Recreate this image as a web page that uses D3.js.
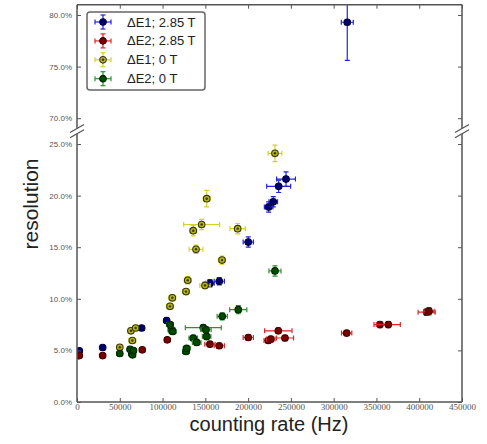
<!DOCTYPE html>
<html>
<head>
<meta charset="utf-8">
<script src="https://cdn.jsdelivr.net/npm/d3@7"></script>
<style>
body { margin: 0; background: #fff; }
</style>
</head>
<body>
<div id="chart"></div>
<script>
// counting rate (Hz), resolution (%) and their error bars for every series
var e1HighRate = [2700, 30000, 75600, 104800, 155400, 166300, 200200, 224000, 229400, 235700, 244300, 315900];
var e1HighRes = [4.96, 5.28, 7.17, 7.9, 11.5, 11.7, 15.5, 18.9, 19.4, 20.9, 21.6, 79.3];
var e1HighRateErr = [1500, 2000, 2500, 3000, 5000, 6000, 6000, 5000, 5000, 14000, 11000, 7000];
var e1HighResErr = [0.15, 0.15, 0.2, 0.25, 0.35, 0.35, 0.5, 0.5, 0.5, 0.6, 0.7, 3.7];

var e2HighRate = [2700, 30000, 76300, 105500, 155400, 166300, 200200, 223600, 226500, 235300, 243100, 315200, 354100, 363900, 408700, 411400];
var e2HighRes = [4.5, 4.5, 5.06, 6.03, 5.6, 5.45, 6.25, 5.96, 6.1, 6.9, 6.2, 6.68, 7.5, 7.5, 8.7, 8.8];
var e2HighRateErr = [1500, 2000, 2500, 3000, 6000, 6000, 6000, 5000, 5000, 16000, 10000, 6000, 7000, 14000, 10000, 6000];
var e2HighResErr = [0.15, 0.15, 0.15, 0.2, 0.2, 0.2, 0.25, 0.25, 0.25, 0.25, 0.25, 0.25, 0.3, 0.3, 0.3, 0.35];

var e1ZeroRate = [50000, 63000, 64700, 68600, 108700, 111400, 127400, 129400, 149600, 139100, 169500, 135900, 145700, 187800, 151600, 231400];
var e1ZeroRes = [5.3, 6.9, 5.96, 7.17, 9.27, 10.1, 10.7, 11.8, 11.3, 14.8, 13.75, 16.6, 17.2, 16.8, 19.7, 24.1];
var e1ZeroRateErr = [3000, 3000, 4000, 3000, 4000, 4000, 4000, 4000, 6000, 8000, 4000, 4000, 21000, 9000, 4000, 8000];
var e1ZeroResErr = [0.2, 0.25, 0.25, 0.25, 0.3, 0.3, 0.3, 0.35, 0.35, 0.4, 0.4, 0.5, 0.5, 0.5, 0.8, 0.8];

var e2ZeroRate = [50000, 62000, 64000, 65000, 66000, 108700, 110500, 111800, 127400, 128200, 135900, 139900, 147600, 150800, 151500, 169800, 188500, 231400];
var e2ZeroRes = [4.7, 5.1, 4.67, 4.57, 4.99, 7.5, 7.0, 6.84, 4.9, 5.2, 6.2, 5.77, 7.2, 7.0, 6.35, 8.3, 8.95, 12.7];
var e2ZeroRateErr = [3000, 3000, 3000, 3000, 3000, 4000, 4000, 4000, 4000, 4000, 5000, 5000, 21000, 6000, 5000, 6000, 10000, 7000];
var e2ZeroResErr = [0.2, 0.2, 0.2, 0.2, 0.2, 0.3, 0.3, 0.3, 0.25, 0.25, 0.25, 0.25, 0.3, 0.3, 0.3, 0.35, 0.4, 0.5];

var seriesNames = ["\u0394E1; 2.85 T", "\u0394E2; 2.85 T", "\u0394E1; 0 T", "\u0394E2; 0 T"];

// tick values
var rateTicks = [0, 50000, 100000, 150000, 200000, 250000, 300000, 350000, 400000, 450000];
var topResTicks = [70, 75, 80];
var bottomResTicks = [0, 5, 10, 15, 20, 25];

var series = [
    {name: seriesNames[0], rate: e1HighRate, res: e1HighRes, rateErr: e1HighRateErr, resErr: e1HighResErr,
     bar: "#2424d8", fill: "#00006e", edge: "#000040", dot: false},
    {name: seriesNames[1], rate: e2HighRate, res: e2HighRes, rateErr: e2HighRateErr, resErr: e2HighResErr,
     bar: "#e02626", fill: "#7a0000", edge: "#400000", dot: false},
    {name: seriesNames[2], rate: e1ZeroRate, res: e1ZeroRes, rateErr: e1ZeroRateErr, resErr: e1ZeroResErr,
     bar: "#d2d22a", fill: "#b4b424", edge: "#383800", dot: true},
    {name: seriesNames[3], rate: e2ZeroRate, res: e2ZeroRes, rateErr: e2ZeroRateErr, resErr: e2ZeroResErr,
     bar: "#2f8f2f", fill: "#004a00", edge: "#002200", dot: false}
];

var width = 487;
var height = 444;
var left = 77;
var right = 462;
var spine = "#555";
var markerR = 3.3;

var svg = d3.select("#chart")
    .append("svg")
        .attr("width", width)
        .attr("height", height)
        .style("font-family", "'Liberation Sans', Arial, sans-serif");

var x = d3.scaleLinear().domain([0, 450000]).range([left, right]);

// two panels of one broken y axis, same px per percent
var panels = [
    {id: "top", y: d3.scaleLinear().domain([69, 81]).range([128.5, 4.7]), ticks: topResTicks},
    {id: "bottom", y: d3.scaleLinear().domain([0, 26]).range([402, 133.7]), ticks: bottomResTicks}
];

var defs = svg.append("defs");

panels.forEach(function(p) {
    var top = p.y.range()[1];
    var bottom = p.y.range()[0];

    defs.append("clipPath").attr("id", "clip-" + p.id)
        .append("rect")
            .attr("x", left).attr("y", top)
            .attr("width", right - left).attr("height", bottom - top);

    var plot = svg.append("g").attr("clip-path", "url(#clip-" + p.id + ")");

    series.forEach(function(s) {
        var g = plot.append("g");
        var pts = s.rate.map(function(r, i) {
            return {r: r, v: s.res[i], er: s.rateErr[i], ev: s.resErr[i]};
        });
        var pt = g.selectAll("g").data(pts).enter().append("g");

        // horizontal error bars + caps
        pt.append("line")
            .attr("x1", d => x(d.r - d.er)).attr("x2", d => x(d.r + d.er))
            .attr("y1", d => p.y(d.v)).attr("y2", d => p.y(d.v))
            .style("stroke", s.bar).style("stroke-width", 1.2);
        [-1, 1].forEach(function(k) {
            pt.append("line")
                .attr("x1", d => x(d.r + k * d.er)).attr("x2", d => x(d.r + k * d.er))
                .attr("y1", d => p.y(d.v) - 2.5).attr("y2", d => p.y(d.v) + 2.5)
                .style("stroke", s.bar).style("stroke-width", 1.2);
        });
        // vertical error bars + caps
        pt.append("line")
            .attr("x1", d => x(d.r)).attr("x2", d => x(d.r))
            .attr("y1", d => p.y(d.v - d.ev)).attr("y2", d => p.y(d.v + d.ev))
            .style("stroke", s.bar).style("stroke-width", 1.2);
        [-1, 1].forEach(function(k) {
            pt.append("line")
                .attr("x1", d => x(d.r) - 2.5).attr("x2", d => x(d.r) + 2.5)
                .attr("y1", d => p.y(d.v + k * d.ev)).attr("y2", d => p.y(d.v + k * d.ev))
                .style("stroke", s.bar).style("stroke-width", 1.2);
        });
        pt.append("circle")
            .attr("cx", d => x(d.r)).attr("cy", d => p.y(d.v))
            .attr("r", markerR)
            .style("fill", s.fill).style("stroke", s.edge).style("stroke-width", 1.1);
        if (s.dot) {
            pt.append("circle")
                .attr("cx", d => x(d.r)).attr("cy", d => p.y(d.v))
                .attr("r", 1.2)
                .style("fill", s.edge);
        }
    });

    // y axes, ticks pointing inward
    var yLeft = svg.append("g")
        .attr("transform", "translate(" + left + ",0)")
        .call(d3.axisLeft(p.y).tickValues(p.ticks).tickSize(-4).tickPadding(5)
            .tickFormat(d => d.toFixed(1) + "%"));
    yLeft.select(".domain").remove();
    yLeft.selectAll("text").style("font-size", "8px").style("fill", "#555")
        .style("font-family", "'Liberation Sans', Arial, sans-serif");
    yLeft.selectAll("line").style("stroke", spine);

    var yRight = svg.append("g")
        .attr("transform", "translate(" + right + ",0)")
        .call(d3.axisRight(p.y).tickValues(p.ticks).tickSize(-4).tickFormat(""));
    yRight.select(".domain").remove();
    yRight.selectAll("line").style("stroke", spine);

    // spines
    svg.append("line").attr("x1", left).attr("x2", left).attr("y1", top).attr("y2", bottom)
        .style("stroke", spine).style("stroke-width", 1.5);
    svg.append("line").attr("x1", right).attr("x2", right).attr("y1", top).attr("y2", bottom)
        .style("stroke", spine).style("stroke-width", 1.5);

    if (p.id == "top") {
        var xTop = svg.append("g")
            .attr("transform", "translate(0," + top + ")")
            .call(d3.axisTop(x).tickValues(rateTicks).tickSize(-4).tickFormat(""));
        xTop.select(".domain").remove();
        xTop.selectAll("line").style("stroke", spine);
        svg.append("line").attr("x1", left).attr("x2", right).attr("y1", top).attr("y2", top)
            .style("stroke", spine).style("stroke-width", 1.5);
    } else {
        var xBot = svg.append("g")
            .attr("transform", "translate(0," + bottom + ")")
            .call(d3.axisBottom(x).tickValues(rateTicks).tickSize(-4).tickPadding(2)
                .tickFormat(d3.format("d")));
        xBot.select(".domain").remove();
        xBot.selectAll("line").style("stroke", spine);
        xBot.selectAll("text").style("font-size", "9px").style("fill", "#555")
            .style("font-family", "'Liberation Serif', 'Times New Roman', serif");
        svg.append("line").attr("x1", left).attr("x2", right).attr("y1", bottom).attr("y2", bottom)
            .style("stroke", spine).style("stroke-width", 1.5);
    }
});

// break marks
var breakYs = [panels[0].y.range()[0], panels[1].y.range()[1]];
[left, right].forEach(function(bx) {
    breakYs.forEach(function(by) {
        svg.append("line")
            .attr("x1", bx - 7).attr("y1", by + 4)
            .attr("x2", bx + 7).attr("y2", by - 4)
            .style("stroke", spine).style("stroke-width", 1.3);
    });
});

// axis titles
svg.append("text")
    .attr("transform", "translate(38,204) rotate(-90)")
    .attr("text-anchor", "middle")
    .style("font-size", "21px")
    .style("fill", "#222")
    .text("resolution");

svg.append("text")
    .attr("x", 269).attr("y", 431)
    .attr("text-anchor", "middle")
    .style("font-size", "20px")
    .style("fill", "#222")
    .text("counting rate (Hz)");

// legend
var legend = svg.append("g").attr("transform", "translate(87,12)");
legend.append("rect")
    .attr("width", 118).attr("height", 78)
    .attr("rx", 3)
    .style("fill", "#fff").style("stroke", "#666").style("stroke-width", 1.5);

var item = legend.selectAll(".item").data(series).enter().append("g")
    .attr("transform", (d, i) => "translate(16," + (10 + i * 18.9) + ")");
item.append("line").attr("x1", -8).attr("x2", 8)
    .style("stroke", d => d.bar).style("stroke-width", 1.2);
item.append("line").attr("y1", -7).attr("y2", 7)
    .style("stroke", d => d.bar).style("stroke-width", 1.2);
[-1, 1].forEach(function(k) {
    item.append("line").attr("x1", k * 8).attr("x2", k * 8).attr("y1", -2.5).attr("y2", 2.5)
        .style("stroke", d => d.bar).style("stroke-width", 1.2);
    item.append("line").attr("y1", k * 7).attr("y2", k * 7).attr("x1", -2.5).attr("x2", 2.5)
        .style("stroke", d => d.bar).style("stroke-width", 1.2);
});
item.append("circle").attr("r", markerR)
    .style("fill", d => d.fill).style("stroke", d => d.edge).style("stroke-width", 1.1);
item.filter(d => d.dot).append("circle").attr("r", 1.2).style("fill", d => d.edge);
item.append("text")
    .attr("x", 24).attr("y", 4.5)
    .style("font-size", "13px")
    .style("fill", "#222")
    .text(d => d.name);
</script>
</body>
</html>
